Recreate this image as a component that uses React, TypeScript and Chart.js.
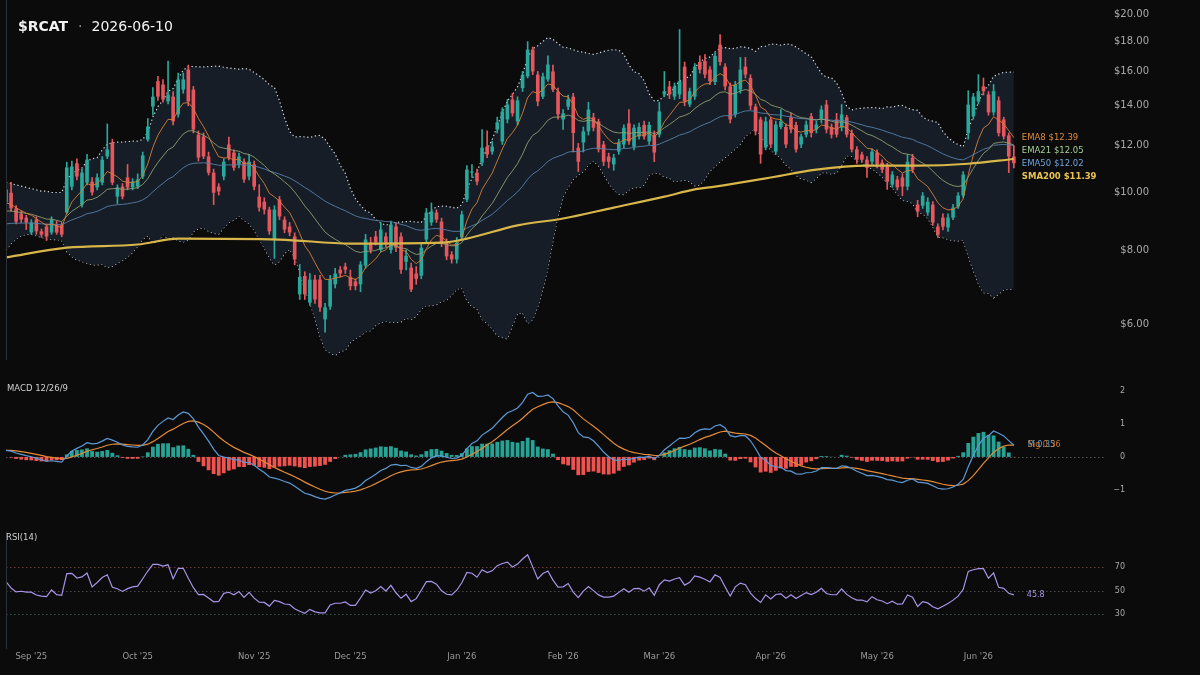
import React, { useEffect, useRef } from "react";
import { Chart, registerables } from "chart.js";

Chart.register(...registerables);

// ---------- data ----------
const TICKER = "$RCAT";
const AS_OF = "2026-06-10";
const FIRST_DAY = "2025-08-25";
const LAST_DAY = "2026-06-10";
const HOLIDAYS = ["2025-09-01", "2025-11-27", "2025-12-25", "2026-01-01", "2026-01-19", "2026-02-16", "2026-04-03", "2026-05-25"];
const EMPTY_SLOTS = 18;

const OPEN = [
  9.62, 9.99, 9.40, 9.21, 9.07, 8.56, 9.00, 8.60, 8.76, 8.56,
  8.83, 8.83, 9.25, 10.23, 11.20, 9.54, 10.39, 10.43, 10.20, 10.39,
  11.50, 12.14, 9.84, 10.23, 10.60, 10.20, 10.23, 10.64, 12.28, 13.96,
  15.41, 15.21, 14.24, 14.51, 13.54, 14.91, 16.12, 14.91, 12.52, 12.43,
  11.50, 10.80, 10.23, 10.64, 12.05, 11.68, 11.15, 11.27, 10.64, 11.15,
  9.84, 9.65, 9.36, 8.33, 9.73, 9.00, 8.76, 8.43, 6.73, 7.23,
  6.52, 7.13, 7.13, 6.11, 6.42, 7.00, 7.41, 7.50, 7.20, 7.08,
  7.00, 7.53, 8.23, 8.43, 8.00, 8.43, 8.00, 8.76, 8.43, 7.64,
  7.47, 7.30, 7.24, 8.33, 8.90, 9.25, 8.93, 8.23, 7.86, 7.71,
  8.40, 9.73, 10.80, 10.80, 11.23, 11.95, 11.72, 12.77, 12.19, 13.28,
  14.35, 13.18, 15.00, 15.70, 17.42, 15.81, 14.51, 15.51, 16.00, 14.80,
  13.28, 13.96, 14.51, 11.90, 12.14, 12.68, 13.39, 13.18, 12.05, 11.50,
  11.15, 11.72, 12.05, 13.08, 11.95, 12.43, 13.00, 12.19, 12.52, 12.52,
  14.63, 15.10, 14.51, 14.63, 16.30, 14.07, 14.51, 16.60, 16.66, 16.12,
  15.36, 17.76, 16.30, 15.10, 13.54, 14.91, 16.30, 15.60, 13.96, 13.28,
  11.90, 13.28, 11.72, 12.90, 12.90, 13.39, 13.00, 12.05, 12.52, 13.44,
  12.77, 13.28, 14.07, 12.90, 13.28, 12.86, 13.39, 12.60, 11.82, 11.59,
  11.36, 11.27, 11.68, 11.23, 11.06, 10.31, 10.52, 10.60, 10.23, 11.45,
  9.54, 9.50, 9.25, 9.54, 8.76, 9.07, 8.73, 9.07, 9.47, 9.88,
  12.60, 13.44, 14.24, 15.10, 14.63, 13.65, 14.30, 13.28, 12.48, 11.50,
];
const HIGH = [
  10.25, 10.40, 9.50, 9.30, 9.15, 9.00, 9.10, 8.68, 8.85, 9.10,
  8.95, 8.90, 11.25, 11.30, 11.40, 10.95, 11.60, 10.60, 10.75, 11.50,
  13.05, 12.30, 10.30, 10.35, 11.15, 10.55, 10.75, 11.70, 13.33, 15.03,
  15.70, 15.50, 16.66, 14.80, 15.90, 15.90, 16.40, 15.10, 12.70, 12.60,
  11.70, 10.95, 10.35, 11.40, 12.40, 11.80, 11.65, 11.40, 11.60, 11.30,
  10.31, 9.80, 9.45, 9.50, 9.85, 9.10, 8.90, 8.55, 7.56, 7.35,
  7.30, 7.25, 7.25, 6.50, 7.25, 7.45, 7.50, 7.60, 7.40, 7.15,
  7.65, 8.50, 8.40, 8.60, 8.90, 8.55, 8.95, 8.90, 8.55, 8.00,
  7.60, 7.50, 8.20, 9.40, 9.60, 9.35, 9.05, 8.35, 7.95, 8.40,
  9.30, 11.10, 11.15, 10.95, 12.77, 12.70, 12.20, 13.40, 13.90, 14.35,
  14.70, 14.50, 16.00, 17.97, 17.60, 16.00, 15.90, 17.00, 16.40, 15.00,
  13.80, 14.60, 14.70, 12.10, 12.90, 14.20, 13.60, 13.30, 12.20, 11.65,
  11.60, 12.30, 13.00, 13.80, 13.00, 13.10, 13.20, 13.15, 12.70, 14.20,
  16.00, 15.40, 15.30, 18.83, 16.60, 15.00, 16.50, 17.00, 17.09, 16.30,
  17.20, 18.47, 16.50, 15.30, 15.40, 16.90, 16.90, 15.80, 14.10, 13.40,
  13.40, 13.40, 13.20, 13.80, 13.05, 13.60, 13.15, 12.55, 13.20, 13.60,
  13.20, 14.00, 14.30, 13.05, 13.60, 14.07, 13.50, 12.75, 11.95, 11.70,
  11.50, 11.85, 11.80, 11.35, 11.20, 10.85, 10.65, 10.75, 11.59, 11.60,
  9.70, 10.00, 9.80, 9.65, 8.85, 9.20, 9.20, 9.55, 10.00, 10.85,
  14.85, 14.70, 15.81, 15.60, 14.80, 15.21, 14.50, 13.40, 12.60, 12.00,
];
const LOW = [
  9.55, 9.30, 8.85, 8.90, 8.66, 8.50, 8.50, 8.40, 8.30, 8.50,
  8.50, 8.42, 9.20, 10.10, 10.50, 9.45, 10.30, 9.90, 10.10, 10.30,
  11.40, 10.30, 9.58, 9.75, 10.10, 10.10, 10.15, 10.55, 12.20, 13.50,
  14.30, 14.20, 14.10, 13.00, 13.40, 14.70, 14.00, 12.60, 11.30, 11.40,
  10.70, 9.54, 9.90, 10.50, 11.35, 10.90, 11.00, 10.40, 10.50, 10.10,
  9.30, 9.20, 8.50, 7.74, 9.00, 8.55, 8.45, 7.55, 6.60, 6.60,
  6.45, 6.50, 6.30, 5.81, 6.35, 6.90, 7.20, 7.30, 6.85, 6.85,
  6.80, 7.45, 7.90, 8.15, 7.95, 8.10, 7.90, 7.95, 7.30, 7.40,
  6.80, 7.00, 7.15, 8.20, 8.80, 8.90, 8.10, 7.70, 7.60, 7.60,
  8.30, 9.65, 10.60, 10.30, 11.10, 11.45, 11.60, 12.60, 12.05, 13.10,
  13.45, 13.00, 14.80, 15.60, 15.80, 14.00, 14.40, 15.40, 14.80, 13.30,
  12.77, 13.80, 11.70, 10.85, 11.70, 12.50, 12.70, 11.70, 11.10, 11.00,
  10.90, 11.60, 11.90, 12.05, 11.80, 12.30, 12.30, 12.05, 11.27, 12.40,
  14.50, 14.40, 14.35, 14.40, 14.00, 13.96, 14.35, 15.90, 15.60, 15.20,
  15.20, 16.40, 14.90, 13.10, 13.40, 14.70, 15.60, 13.80, 12.50, 11.20,
  11.80, 11.90, 11.60, 12.80, 11.90, 12.60, 11.70, 11.90, 12.40, 12.40,
  12.60, 13.10, 12.60, 12.35, 12.40, 12.70, 12.40, 11.70, 11.20, 11.25,
  10.60, 11.15, 11.00, 10.80, 10.12, 10.20, 10.10, 9.88, 10.10, 10.80,
  9.10, 9.40, 9.15, 8.80, 8.40, 8.65, 8.60, 9.00, 9.40, 9.80,
  12.30, 13.30, 14.10, 14.60, 13.50, 13.50, 12.45, 12.30, 10.80, 11.00,
];
const CLOSE = [
  10.12, 9.40, 8.93, 9.00, 8.90, 8.90, 8.60, 8.49, 8.43, 9.00,
  8.56, 8.49, 11.02, 11.06, 10.64, 10.80, 11.36, 10.00, 10.60, 11.36,
  11.82, 10.39, 10.20, 9.84, 10.20, 10.43, 10.52, 11.55, 12.92, 14.51,
  14.51, 14.35, 14.63, 13.18, 15.51, 15.51, 14.24, 12.77, 11.45, 11.50,
  10.80, 9.99, 10.04, 11.27, 11.45, 11.01, 11.50, 10.52, 11.27, 10.23,
  9.43, 9.36, 8.60, 9.36, 9.11, 8.66, 8.56, 7.71, 7.20, 6.73,
  7.13, 6.60, 6.40, 6.40, 7.13, 7.30, 7.30, 7.41, 6.95, 6.95,
  7.56, 8.33, 8.00, 8.23, 8.66, 8.23, 8.83, 8.07, 7.41, 7.82,
  6.86, 7.15, 8.07, 9.25, 9.29, 9.00, 8.23, 7.80, 7.71, 8.23,
  9.18, 10.93, 10.85, 10.43, 11.90, 11.59, 11.95, 13.13, 13.70, 14.07,
  13.60, 14.30, 15.80, 17.42, 16.00, 14.24, 15.70, 16.44, 14.91, 13.54,
  13.60, 14.35, 12.60, 11.27, 12.68, 13.80, 12.86, 11.82, 11.27, 11.27,
  11.45, 12.14, 12.86, 12.19, 12.86, 12.90, 12.43, 13.00, 11.68, 13.70,
  14.82, 14.63, 15.10, 15.41, 14.24, 14.82, 16.30, 16.12, 15.81, 15.41,
  16.99, 16.60, 15.10, 13.28, 15.21, 16.12, 15.81, 14.01, 12.67, 11.59,
  13.18, 12.05, 13.02, 13.18, 12.05, 12.77, 11.82, 12.43, 13.02, 12.60,
  13.02, 13.80, 12.77, 12.52, 12.52, 13.54, 12.52, 11.82, 11.36, 11.36,
  11.00, 11.72, 11.15, 10.93, 10.43, 10.72, 10.20, 10.23, 11.27, 10.93,
  9.29, 9.88, 9.65, 8.90, 8.49, 8.76, 9.07, 9.43, 9.88, 10.72,
  14.07, 14.51, 14.82, 14.82, 13.65, 14.82, 12.60, 12.43, 11.50, 11.20,
];

// SMA200 at these candle indexes
const SMA200_AT = [0, 12, 26, 34, 54, 68, 86, 91, 101, 110, 120, 130, 136, 140, 150, 160, 170, 180, 190, 199];
const SMA200_VALUES = [7.77, 8.07, 8.17, 8.36, 8.33, 8.20, 8.23, 8.36, 8.80, 9.04, 9.43, 9.84, 10.12, 10.23, 10.56, 10.93, 11.10, 11.10, 11.18, 11.39];

// Bollinger band values at the left edge (before 20 closes are available)
const BB_UPPER_START = [10.40, 10.35, 10.30, 10.25, 10.20, 10.15, 10.10, 10.05, 10.05, 10.00, 10.00, 10.00, 10.52, 10.75, 10.90, 11.00, 11.30, 11.40, 11.45];
const BB_LOWER_START = [8.00, 8.20, 8.35, 8.45, 8.50, 8.50, 8.45, 8.40, 8.35, 8.33, 8.33, 8.30, 7.95, 7.80, 7.70, 7.65, 7.60, 7.55, 7.55];

// indicator values read at the left edge
const EMA8_START = 9.6;
const EMA21_START = 9.3;
const EMA50_START = 8.85;
const EMA12_START = 9.5;
const EMA26_START = 9.3;
const SIGNAL_START = 0.2;
const RSI_GAIN_START = 0.3;
const RSI_LOSS_START = 0.22;

// end-of-line labels
const END_NAMES = ["EMA8", "EMA21", "EMA50", "SMA200"];
const END_VALUES = [12.39, 12.05, 12.02, 11.39];
const MACD_LAST = 0.35;
const SIGNAL_LAST = 0.36;
const RSI_LAST = 45.8;

const PRICE_TICKS = [6, 8, 10, 12, 14, 16, 18, 20];
const MACD_TICKS = [-1, 0, 1, 2];
const RSI_TICKS = [30, 50, 70];
const RSI_LEVELS = [70, 50, 30];

// ---------- style ----------
const FONT = "DejaVu Sans";
const BG = "#0b0b0c";
const UP = "#29a89b";
const DOWN = "#e5575c";
const BB_FILL = "#161d26";
const BB_EDGE = "#d4d7dc";
const EMA8_COLOR = "rgba(214,128,56,0.9)";
const EMA21_COLOR = "rgba(150,165,115,0.85)";
const EMA50_COLOR = "rgba(86,128,170,0.9)";
const SMA200_COLOR = "#d9b649";
const END_COLORS = ["#e08a3c", "#a6cf96", "#6ea3dc", "#e9c352"];
const MACD_COLOR = "#5d9ad6";
const SIGNAL_COLOR = "#e38b36";
const RSI_COLOR = "#a994e6";
const RSI_LEVEL_COLORS = ["#6a3c3c", "#4a4a4a", "#3c5a4c"];
const AXIS_TEXT = "#a9a9a9";
const EDGE_LINE = "#2c3037";

// ---------- derived ----------
const N = CLOSE.length;
const MONTHS = ["Jan", "Feb", "Mar", "Apr", "May", "Jun", "Jul", "Aug", "Sep", "Oct", "Nov", "Dec"];

function tradingDays(first: string, last: string, holidays: string[]) {
  const out: string[] = [];
  const d = new Date(first + "T00:00:00Z");
  const end = new Date(last + "T00:00:00Z");
  while (d <= end) {
    const wd = d.getUTCDay();
    const iso = d.toISOString().slice(0, 10);
    if (wd !== 0 && wd !== 6 && !holidays.includes(iso)) out.push(iso);
    d.setUTCDate(d.getUTCDate() + 1);
  }
  return out;
}

const DATES = tradingDays(FIRST_DAY, LAST_DAY, HOLIDAYS).slice(0, N);
const LABELS = [...DATES, ...Array.from({ length: EMPTY_SLOTS }, () => "")];
const MONTH_TEXT = LABELS.map((d, i) => {
  if (!d || i === 0) return "";
  const prev = LABELS[i - 1];
  if (prev && prev.slice(5, 7) === d.slice(5, 7)) return "";
  const m = parseInt(d.slice(5, 7), 10) - 1;
  return `${MONTHS[m]} '${d.slice(2, 4)}`;
});

function ema(src: number[], period: number, start: number) {
  const k = 2 / (period + 1);
  const out: number[] = [];
  let prev = start;
  src.forEach((v, i) => {
    prev = i === 0 ? start : prev + k * (v - prev);
    out.push(prev);
  });
  return out;
}

const EMA8 = ema(CLOSE, 8, EMA8_START);
const EMA21 = ema(CLOSE, 21, EMA21_START);
const EMA50 = ema(CLOSE, 50, EMA50_START);

const BB_UPPER: number[] = [];
const BB_LOWER: number[] = [];
CLOSE.forEach((_, i) => {
  if (i < BB_UPPER_START.length) {
    BB_UPPER.push(BB_UPPER_START[i]);
    BB_LOWER.push(BB_LOWER_START[i]);
    return;
  }
  const win = CLOSE.slice(i - 19, i + 1);
  const mean = win.reduce((a, b) => a + b, 0) / win.length;
  const sd = Math.sqrt(win.reduce((a, b) => a + (b - mean) * (b - mean), 0) / win.length);
  BB_UPPER.push(mean + 2 * sd);
  BB_LOWER.push(mean - 2 * sd);
});

const SMA200: (number | null)[] = CLOSE.map(() => null);
SMA200_AT.forEach((idx, k) => {
  SMA200[idx] = SMA200_VALUES[k];
});

const EMA12 = ema(CLOSE, 12, EMA12_START);
const EMA26 = ema(CLOSE, 26, EMA26_START);
const MACD = EMA12.map((v, i) => v - EMA26[i]);
const SIGNAL = ema(MACD, 9, SIGNAL_START);
const HIST = MACD.map((v, i) => v - SIGNAL[i]);

const RSI: number[] = [];
{
  let g = RSI_GAIN_START;
  let l = RSI_LOSS_START;
  CLOSE.forEach((c, i) => {
    if (i > 0) {
      const ch = c - CLOSE[i - 1];
      g = (g * 13 + Math.max(ch, 0)) / 14;
      l = (l * 13 + Math.max(-ch, 0)) / 14;
    }
    RSI.push(l === 0 ? 100 : 100 - 100 / (1 + g / l));
  });
}

const CANDLE_COLORS = CLOSE.map((c, i) => (c >= OPEN[i] ? UP : DOWN));

// ---------- plugins ----------
const leftEdge = {
  id: "leftEdge",
  afterDatasetsDraw(chart: any) {
    const { ctx, chartArea } = chart;
    ctx.save();
    ctx.strokeStyle = EDGE_LINE;
    ctx.lineWidth = 1;
    ctx.beginPath();
    ctx.moveTo(chartArea.left + 0.5, chartArea.top);
    ctx.lineTo(chartArea.left + 0.5, chartArea.bottom);
    ctx.stroke();
    ctx.restore();
  },
};

const priceEndLabels = {
  id: "priceEndLabels",
  afterDatasetsDraw(chart: any) {
    const { ctx } = chart;
    const x = chart.scales.x.getPixelForValue(N - 1) + 8;
    const ys = chart.scales.y;
    const items = END_NAMES.map((n, k) => ({
      text: `${n} $${END_VALUES[k].toFixed(2)}`,
      y: ys.getPixelForValue(END_VALUES[k]),
      color: END_COLORS[k],
      bold: n === "SMA200",
    })).sort((a, b) => a.y - b.y);
    let prev = -Infinity;
    ctx.save();
    ctx.textBaseline = "middle";
    ctx.textAlign = "left";
    items.forEach((it) => {
      const y = Math.max(it.y, prev + 13);
      prev = y;
      ctx.font = `${it.bold ? "bold " : ""}8.5px "${FONT}"`;
      ctx.fillStyle = it.color;
      ctx.fillText(it.text, x, y);
    });
    ctx.restore();
  },
};

function levelLines(values: number[], colors: string[]) {
  return {
    id: "levelLines",
    beforeDatasetsDraw(chart: any) {
      const { ctx, chartArea } = chart;
      const ys = chart.scales.y;
      ctx.save();
      ctx.lineWidth = 1;
      ctx.setLineDash([1.5, 2.5]);
      values.forEach((v, k) => {
        const y = Math.round(ys.getPixelForValue(v)) + 0.5;
        ctx.strokeStyle = colors[k];
        ctx.beginPath();
        ctx.moveTo(chartArea.left, y);
        ctx.lineTo(chartArea.right, y);
        ctx.stroke();
      });
      ctx.restore();
    },
  };
}

const macdEndLabels = {
  id: "macdEndLabels",
  afterDatasetsDraw(chart: any) {
    const { ctx } = chart;
    const x = chart.scales.x.getPixelForValue(N - 1) + 14;
    const ys = chart.scales.y;
    ctx.save();
    ctx.textBaseline = "middle";
    ctx.font = `8px "${FONT}"`;
    ctx.fillStyle = MACD_COLOR;
    ctx.fillText(`M ${MACD_LAST.toFixed(2)}`, x, ys.getPixelForValue(MACD_LAST));
    ctx.fillStyle = SIGNAL_COLOR;
    ctx.globalAlpha = 0.85;
    ctx.fillText(`Sig ${SIGNAL_LAST.toFixed(2)}`, x, ys.getPixelForValue(SIGNAL_LAST));
    ctx.restore();
  },
};

const rsiEndLabel = {
  id: "rsiEndLabel",
  afterDatasetsDraw(chart: any) {
    const { ctx } = chart;
    const x = chart.scales.x.getPixelForValue(N - 1) + 13;
    ctx.save();
    ctx.textBaseline = "middle";
    ctx.font = `8px "${FONT}"`;
    ctx.fillStyle = RSI_COLOR;
    ctx.fillText(RSI_LAST.toFixed(1), x, chart.scales.y.getPixelForValue(RSI_LAST));
    ctx.restore();
  },
};

// ---------- configs ----------
const common = {
  responsive: true,
  maintainAspectRatio: false,
  animation: false as const,
  events: [] as any[],
  plugins: { legend: { display: false }, tooltip: { enabled: false } },
};

function yAxis(width: number, fontSize: number, padding: number) {
  return {
    position: "right" as const,
    grid: { display: false, drawTicks: false },
    border: { display: false },
    afterFit: (s: any) => {
      s.width = width;
      s.paddingTop = 0;
      s.paddingBottom = 0;
    },
    ticks: { color: AXIS_TEXT, font: { family: FONT, size: fontSize }, padding, crossAlign: "far" as const },
  };
}

function priceConfig(): any {
  const line = (data: any[], color: string, width: number, order: number) => ({
    type: "line",
    data,
    borderColor: color,
    borderWidth: width,
    pointRadius: 0,
    tension: 0,
    fill: false,
    order,
  });
  return {
    type: "bar",
    data: {
      labels: LABELS,
      datasets: [
        {
          type: "line",
          data: BB_UPPER,
          borderColor: BB_EDGE,
          borderWidth: 1.2,
          borderDash: [1.3, 2.6],
          pointRadius: 0,
          tension: 0,
          fill: "+1",
          backgroundColor: BB_FILL,
          order: 9,
        },
        {
          type: "line",
          data: BB_LOWER,
          borderColor: BB_EDGE,
          borderWidth: 1.2,
          borderDash: [1.3, 2.6],
          pointRadius: 0,
          tension: 0,
          fill: false,
          order: 9,
        },
        {
          type: "bar",
          data: LOW.map((l, i) => [l, HIGH[i]]),
          backgroundColor: CANDLE_COLORS,
          barThickness: 1,
          grouped: false,
          order: 6,
        },
        {
          type: "bar",
          data: OPEN.map((o, i) => [o, CLOSE[i]]),
          backgroundColor: CANDLE_COLORS,
          barPercentage: 0.72,
          categoryPercentage: 1,
          minBarLength: 1,
          grouped: false,
          order: 5,
        },
        line(EMA50, EMA50_COLOR, 1, 4),
        line(EMA21, EMA21_COLOR, 1, 3),
        line(EMA8, EMA8_COLOR, 1, 2),
        {
          type: "line",
          data: SMA200,
          borderColor: SMA200_COLOR,
          borderWidth: 2.2,
          pointRadius: 0,
          spanGaps: true,
          cubicInterpolationMode: "monotone",
          fill: false,
          order: 1,
        },
      ],
    },
    options: {
      ...common,
      layout: { padding: { left: 6, right: 51, top: 0, bottom: 0 } },
      scales: {
        x: { type: "category", offset: false, display: false, grid: { display: false } },
        y: {
          ...yAxis(44, 10, 8),
          type: "logarithmic",
          min: 5.217,
          max: 21.12,
          afterBuildTicks: (s: any) => {
            s.ticks = PRICE_TICKS.map((v) => ({ value: v }));
          },
          ticks: {
            ...yAxis(44, 10, 8).ticks,
            callback: (v: any) => "$" + Number(v).toFixed(2),
          },
        },
      },
    },
    plugins: [leftEdge, priceEndLabels],
  };
}

function macdConfig(): any {
  return {
    type: "bar",
    data: {
      labels: LABELS,
      datasets: [
        {
          type: "line",
          data: MACD,
          borderColor: MACD_COLOR,
          borderWidth: 1.2,
          pointRadius: 0,
          tension: 0,
          order: 1,
        },
        {
          type: "line",
          data: SIGNAL,
          borderColor: SIGNAL_COLOR,
          borderWidth: 1.2,
          pointRadius: 0,
          tension: 0,
          order: 2,
        },
        {
          type: "bar",
          data: HIST,
          backgroundColor: HIST.map((h) => (h >= 0 ? "#27a396" : "#ef5350")),
          barPercentage: 0.75,
          categoryPercentage: 1,
          grouped: false,
          order: 3,
        },
      ],
    },
    options: {
      ...common,
      layout: { padding: { left: 6, right: 75, top: 0, bottom: 0 } },
      scales: {
        x: { type: "category", offset: false, display: false, grid: { display: false } },
        y: {
          ...yAxis(20, 8, 8),
          type: "linear",
          min: -1.76,
          max: 2.24,
          afterBuildTicks: (s: any) => {
            s.ticks = MACD_TICKS.map((v) => ({ value: v }));
          },
          ticks: {
            ...yAxis(20, 8, 8).ticks,
            callback: (v: any) => (Number(v) < 0 ? "\u2212" + Math.abs(Number(v)) : String(v)),
          },
        },
      },
    },
    plugins: [levelLines([0], ["#555555"]), macdEndLabels],
  };
}

function rsiConfig(): any {
  return {
    type: "line",
    data: {
      labels: LABELS,
      datasets: [
        {
          data: RSI,
          borderColor: RSI_COLOR,
          borderWidth: 1.2,
          pointRadius: 0,
          tension: 0,
          fill: false,
        },
      ],
    },
    options: {
      ...common,
      layout: { padding: { left: 6, right: 75, top: 0, bottom: 0 } },
      scales: {
        x: {
          type: "category",
          offset: false,
          grid: { display: false, drawTicks: false },
          border: { display: false },
          afterFit: (s: any) => {
            s.height = 26;
            s.paddingLeft = 0;
            s.paddingRight = 0;
          },
          ticks: {
            autoSkip: false,
            maxRotation: 0,
            minRotation: 0,
            padding: 3,
            color: "#9a9a9a",
            font: { family: FONT, size: 8.5 },
            callback: (_v: any, i: number) => MONTH_TEXT[i],
          },
        },
        y: {
          ...yAxis(20, 8, 6),
          type: "linear",
          min: 0,
          max: 100,
          afterBuildTicks: (s: any) => {
            s.ticks = RSI_TICKS.map((v) => ({ value: v }));
          },
        },
      },
    },
    plugins: [leftEdge, levelLines(RSI_LEVELS, RSI_LEVEL_COLORS), rsiEndLabel],
  };
}

// ---------- components ----------
function Panel({ top, height, make }: { top: number; height: number; make: () => any }) {
  const ref = useRef<HTMLCanvasElement | null>(null);
  useEffect(() => {
    if (!ref.current) return;
    const chart = new Chart(ref.current, make());
    return () => chart.destroy();
  }, []);
  return (
    <div style={{ position: "absolute", left: 0, top, width: 1200, height }}>
      <canvas ref={ref} />
    </div>
  );
}

export default function App() {
  const small = { position: "absolute" as const, fontFamily: FONT, fontSize: 8.5, color: "#cfcfcf", lineHeight: "10px" };
  return (
    <div style={{ position: "fixed", left: 0, top: 0, width: 1200, height: 675, background: BG, overflow: "hidden" }}>
      <Panel top={0} height={360} make={priceConfig} />
      <Panel top={383} height={132} make={macdConfig} />
      <Panel top={532} height={143} make={rsiConfig} />
      <div
        style={{
          position: "absolute",
          left: 18,
          top: 18,
          fontFamily: FONT,
          fontSize: 14,
          lineHeight: "16px",
          color: "#f2f2f2",
          whiteSpace: "nowrap",
        }}
      >
        <span style={{ fontWeight: "bold" }}>{TICKER}</span>
        <span style={{ color: "#9a9a9a", margin: "0 9px 0 10px" }}>{"\u00b7"}</span>
        <span>{AS_OF}</span>
      </div>
      <div style={{ ...small, left: 7, top: 383 }}>MACD 12/26/9</div>
      <div style={{ ...small, left: 6, top: 532 }}>RSI(14)</div>
    </div>
  );
}
